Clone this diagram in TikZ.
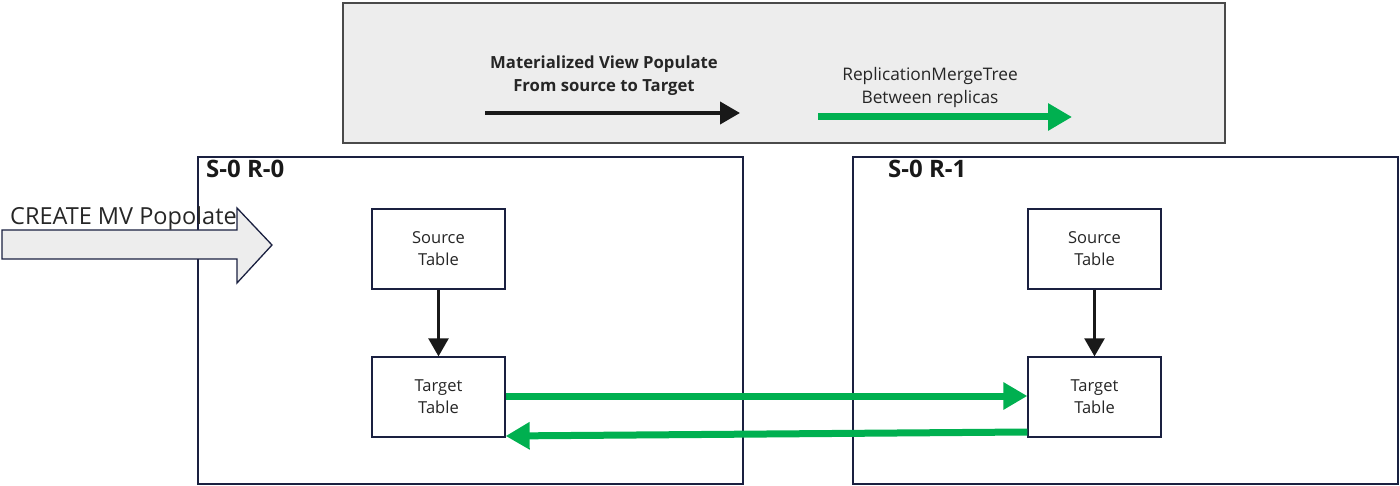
\documentclass[tikz,border=0pt]{standalone}
\usepackage{fontspec}
\setmainfont{Open Sans}
\usetikzlibrary{arrows.meta}
\definecolor{navy}{HTML}{1A2040}
\definecolor{legendgray}{HTML}{EDEDED}
\definecolor{legendborder}{HTML}{4A4A4A}
\definecolor{mvgreen}{HTML}{00B050}
\definecolor{txtgray}{HTML}{262626}
\tikzset{
  tablebox/.style={draw=navy, line width=1.3pt, fill=white, minimum width=133pt, minimum height=80pt, align=center, font=\fontsize{16.5}{22}\selectfont, text=txtgray, inner sep=0pt},
  replica/.style={draw=navy, line width=1.3pt},
  blackarrow/.style={draw=black!90, line width=2.6pt, -{Triangle[length=18pt,width=20pt]}},
  greenarrow/.style={draw=mvgreen, line width=7pt, -{Triangle[length=24pt,width=26pt]}},
  legendtext/.style={align=center, text=txtgray},
  replabel/.style={anchor=north west, font=\fontsize{24}{26}\selectfont\bfseries, text=black!90, inner sep=0pt},
}
\begin{document}
\begin{tikzpicture}[x=1pt,y=-1pt]
\useasboundingbox (0,0) rectangle (1400,486);
% legend
\node[draw=legendborder, line width=1.3pt, fill=legendgray, minimum width=882pt, minimum height=140pt, inner sep=0pt] (legend) at (784,73) {};
\node[legendtext, font=\fontsize{16.7}{23}\selectfont\bfseries] (mvtext) at (604,76) {Materialized View Populate\\From source to Target};
\node[legendtext, font=\fontsize{17.3}{23}\selectfont] (rmttext) at (930,88) {ReplicationMergeTree\\Between replicas};
\coordinate (lb1) at (485,113);
\coordinate (lb2) at (740,113);
\draw[draw=black!90, line width=4pt, -{Triangle[length=20pt,width=22pt]}] (lb1) -- (lb2);
\coordinate (lg1) at (818,117);
\coordinate (lg2) at (1072,117);
\draw[greenarrow] (lg1) -- (lg2);
% replica boxes
\node[replica, minimum width=545pt, minimum height=327pt, inner sep=0pt] (r0) at (470.5,320.5) {};
\node[replica, minimum width=545pt, minimum height=327pt, inner sep=0pt] (r1) at (1125.5,320.5) {};
\node[replabel] (r0label) at (206,160) {S-0 R-0};
\node[replabel] (r1label) at (888,160) {S-0 R-1};
% tables
\node[tablebox] (src0) at (438.5,249) {Source\\Table};
\node[tablebox] (tgt0) at (438.5,397) {Target\\Table};
\node[tablebox] (src1) at (1094.5,249) {Source\\Table};
\node[tablebox] (tgt1) at (1094.5,397) {Target\\Table};
\draw[blackarrow] (src0.south) -- (tgt0.north);
\draw[blackarrow] (src1.south) -- (tgt1.north);
\draw[greenarrow] (tgt0.east |- 0,396) -- (tgt1.west |- 0,396);
\draw[greenarrow] (tgt1.west |- 0,432) -- (tgt0.east |- 0,436);
% create MV block arrow
\draw[draw=navy, line width=1.3pt, fill=legendgray] (2,230) -- (237,230) -- (237,208) -- (272,245) -- (237,283) -- (237,259) -- (2,259) -- cycle;
\node[anchor=base west, inner sep=0pt, font=\fontsize{23.5}{26}\selectfont, text=txtgray] (createmv) at (10,225) {CREATE MV Popolate};
\end{tikzpicture}
\end{document}
